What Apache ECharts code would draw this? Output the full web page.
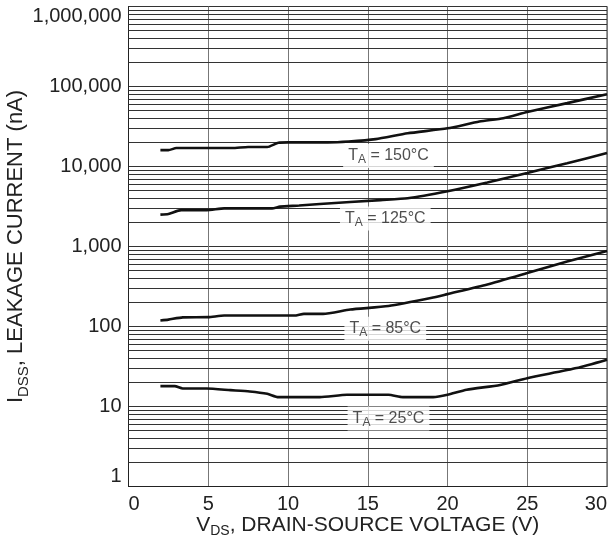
<!DOCTYPE html>
<html>
<head>
<meta charset="utf-8">
<script src="https://cdn.jsdelivr.net/npm/echarts@6/dist/echarts.min.js"></script>
<style>
  html, body { margin: 0; padding: 0; background: #fff; }
  #chart { width: 611px; height: 540px; }
</style>
</head>
<body>
<div id="chart"></div>
<script>
// V_DS (V) and I_DSS (nA)
const v150 = [2, 2.5, 3, 6.5, 7.5, 8.7, 9.4, 10, 12.5, 13.8, 15.5, 17.5, 20, 22, 23.5, 25, 27.5, 30];
const i150 = [16000, 16000, 17000, 17000, 17500, 17500, 19800, 20000, 20000, 20500, 22000, 26000, 30000, 36500, 40000, 48000, 62000, 80000];

const v125 = [2, 2.5, 3.3, 4.9, 6, 9, 9.5, 10.7, 12, 15.8, 17.5, 20, 22.5, 25, 27.5, 30];
const i125 = [2500, 2550, 2850, 2850, 3000, 3000, 3150, 3250, 3400, 3800, 4000, 4900, 6300, 8300, 11000, 14700];

const v85 = [2, 2.5, 3.4, 5, 6, 10.4, 11, 12.2, 13.9, 16.3, 19.1, 20, 22.5, 25, 27.5, 30];
const i85 = [119, 122, 130, 131, 137, 137, 144, 144, 163, 180, 230, 254, 335, 465, 650, 880];

const v25 = [2, 2.9, 3.4, 4.9, 6.4, 7.6, 8.7, 9.4, 12, 13.7, 16.3, 17.2, 19.1, 20, 21.2, 23.3, 25, 28.1, 30];
const i25 = [18, 18, 16.8, 16.8, 16, 15.4, 14.4, 13.1, 13.1, 14, 14, 13.1, 13.1, 14, 16.2, 18.6, 22.6, 30.2, 38.4];

// curve labels
const labelText = ['150', '125', '85', '25'];
const labelV = [16.3, 16.1, 16.1, 16.3];
const labelI = [13500, 2240, 94, 7.1];

// minor log grid lines 2..9 in every decade
const minorLines = [];
for (let d = 1; d < 1000000; d *= 10) {
  for (let k = 2; k <= 9; k++) minorLines.push(d * k);
}

const pairs = (xs, ys) => xs.map((x, i) => [x, ys[i]]);
const font = 'Liberation Sans, Arial, sans-serif';
const txt = '#222';

const curve = (name, xs, ys) => ({
  name: name,
  type: 'line',
  data: pairs(xs, ys),
  symbol: 'none',
  smooth: 0.2,
  lineStyle: { color: '#111', width: 2.6 },
  z: 5
});

const chart = echarts.init(document.getElementById('chart'));
chart.setOption({
  animation: false,
  backgroundColor: '#fff',
  textStyle: { fontFamily: font },
  grid: {
    left: 128.5, right: 4, top: 6.5, bottom: 53.5,
    containLabel: false,
    outerBoundsMode: 'none',
    show: true, borderColor: '#333', borderWidth: 1
  },
  xAxis: {
    type: 'value',
    min: 0, max: 30, interval: 5,
    axisLine: { show: true, lineStyle: { color: '#222', width: 1 } },
    axisTick: { show: false },
    axisLabel: {
      fontSize: 20, color: txt, margin: 8, fontFamily: font,
      alignMinLabel: 'left', alignMaxLabel: 'right'
    },
    splitLine: { show: true, lineStyle: { color: '#777', width: 1 } },
    name: '{n|V}{s|DS}{n|, DRAIN-SOURCE VOLTAGE (V)}',
    nameLocation: 'middle',
    nameGap: 26,
    nameMoveOverlap: false,
    nameTextStyle: {
      color: txt, fontFamily: font, fontSize: 21,
      rich: {
        n: { fontSize: 21, lineHeight: 26, color: txt, fontFamily: font },
        s: { fontSize: 14, lineHeight: 14, verticalAlign: 'bottom', color: txt, fontFamily: font }
      }
    }
  },
  yAxis: {
    type: 'log',
    logBase: 10,
    min: 1, max: 1000000,
    axisLine: { show: true, lineStyle: { color: '#222', width: 1 } },
    axisTick: { show: false },
    axisLabel: {
      fontSize: 20, color: txt, margin: 7, fontFamily: font,
      verticalAlignMaxLabel: 'top', verticalAlignMinLabel: 'bottom',
      formatter: v => Number(v).toLocaleString('en-US')
    },
    splitLine: { show: true, lineStyle: { color: '#333', width: 1 } },
    name: '{n|I}{s|DSS}{n|, LEAKAGE CURRENT (nA)}',
    nameLocation: 'middle',
    nameGap: 97,
    nameMoveOverlap: false,
    nameTextStyle: {
      color: txt, fontFamily: font, fontSize: 22,
      rich: {
        n: { fontSize: 22, lineHeight: 32, color: txt, fontFamily: font },
        s: { fontSize: 15, lineHeight: 13, verticalAlign: 'bottom', color: txt, fontFamily: font }
      }
    }
  },
  series: [
    {
      name: 'grid',
      type: 'line',
      data: [],
      silent: true,
      z: 1,
      markLine: {
        silent: true,
        symbol: 'none',
        label: { show: false },
        lineStyle: { color: '#333', width: 1, type: 'solid' },
        data: minorLines.map(v => ({ yAxis: v }))
      }
    },
    curve('150', v150, i150),
    curve('125', v125, i125),
    curve('85', v85, i85),
    curve('25', v25, i25),
    {
      name: 'labels',
      type: 'scatter',
      silent: true,
      symbolSize: 1,
      itemStyle: { color: 'transparent' },
      z: 10,
      data: labelText.map((t, i) => [labelV[i], labelI[i], t]),
      label: {
        show: true,
        position: 'inside',
        backgroundColor: '#fff',
        padding: [2, 5, 2, 5],
        formatter: p => '{n|T}{s|A}{n| = ' + p.data[2] + '°C}',
        rich: {
          n: { fontSize: 16, lineHeight: 20, color: txt, fontFamily: font },
          s: { fontSize: 12, lineHeight: 12, verticalAlign: 'bottom', color: txt, fontFamily: font }
        }
      }
    }
  ]
});
</script>
</body>
</html>
